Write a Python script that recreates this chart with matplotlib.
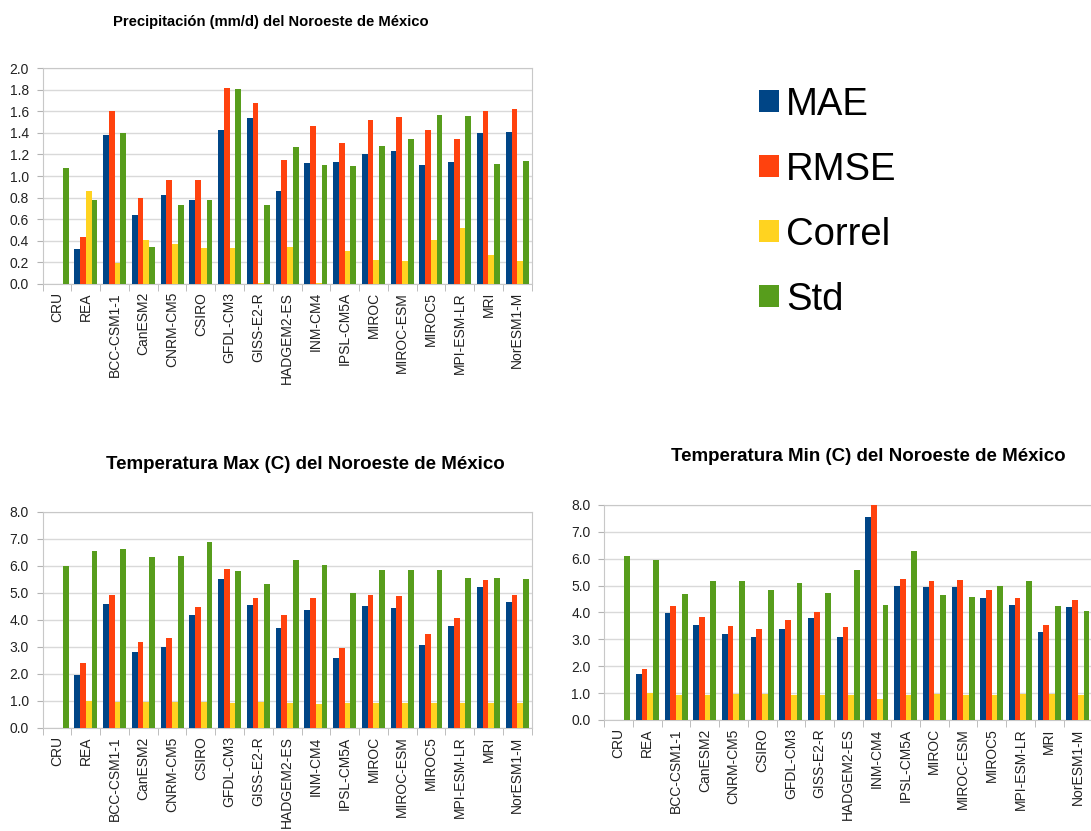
import matplotlib
matplotlib.use("Agg")
import numpy as np
import matplotlib.pyplot as plt
from matplotlib.patches import Patch

plt.rcParams['font.family'] = ['Liberation Sans', 'DejaVu Sans']

modelos = ['CRU', 'REA', 'BCC-CSM1-1', 'CanESM2', 'CNRM-CM5', 'CSIRO', 'GFDL-CM3',
           'GISS-E2-R', 'HADGEM2-ES', 'INM-CM4', 'IPSL-CM5A', 'MIROC', 'MIROC-ESM',
           'MIROC5', 'MPI-ESM-LR', 'MRI', 'NorESM1-M']
series = ['MAE', 'RMSE', 'Correl', 'Std']
colores = ['#004586', '#ff420e', '#ffd320', '#579d1c']

# precipitacion (mm/d)
pr_mae = [0, 0.32, 1.38, 0.64, 0.82, 0.78, 1.43, 1.54, 0.86, 1.12, 1.13, 1.20, 1.23, 1.10, 1.13, 1.40, 1.41]
pr_rmse = [0, 0.43, 1.60, 0.80, 0.96, 0.96, 1.82, 1.68, 1.15, 1.46, 1.31, 1.52, 1.55, 1.43, 1.34, 1.60, 1.62]
pr_correl = [0, 0.86, 0.19, 0.41, 0.37, 0.33, 0.33, 0.01, 0.34, 0.01, 0.30, 0.22, 0.21, 0.41, 0.52, 0.27, 0.21]
pr_std = [1.07, 0.78, 1.40, 0.34, 0.73, 0.78, 1.81, 0.73, 1.27, 1.10, 1.09, 1.28, 1.34, 1.57, 1.56, 1.11, 1.14]

# temperatura maxima (C)
tx_mae = [0, 1.97, 4.60, 2.83, 3.00, 4.17, 5.50, 4.55, 3.69, 4.38, 2.60, 4.50, 4.43, 3.07, 3.76, 5.22, 4.65]
tx_rmse = [0, 2.40, 4.93, 3.20, 3.32, 4.48, 5.88, 4.82, 4.17, 4.82, 2.96, 4.92, 4.87, 3.49, 4.09, 5.49, 4.94]
tx_correl = [0, 0.99, 0.97, 0.96, 0.96, 0.96, 0.92, 0.95, 0.92, 0.88, 0.93, 0.93, 0.93, 0.92, 0.93, 0.93, 0.93]
tx_std = [6.00, 6.54, 6.62, 6.33, 6.37, 6.90, 5.83, 5.34, 6.21, 6.04, 4.99, 5.85, 5.85, 5.85, 5.54, 5.55, 5.52]

# temperatura minima (C)
tn_mae = [0, 1.70, 3.97, 3.52, 3.21, 3.09, 3.40, 3.78, 3.09, 7.57, 4.98, 4.93, 4.95, 4.54, 4.28, 3.28, 4.19]
tn_rmse = [0, 1.91, 4.23, 3.82, 3.49, 3.37, 3.71, 4.00, 3.46, 8.00, 5.24, 5.19, 5.21, 4.83, 4.54, 3.55, 4.45]
tn_correl = [0, 0.99, 0.94, 0.94, 0.96, 0.96, 0.93, 0.93, 0.93, 0.78, 0.93, 0.95, 0.93, 0.93, 0.96, 0.96, 0.93]
tn_std = [6.10, 5.97, 4.69, 5.16, 5.16, 4.85, 5.11, 4.74, 5.57, 4.28, 6.27, 4.64, 4.59, 4.98, 5.19, 4.24, 4.07]


def grafica(ax, datos, titulo, ymax, paso, tx, ty, tsize):
    x = np.arange(len(modelos))
    ancho = 0.2
    for k, vals in enumerate(datos):
        ax.bar(x + (k - 1.5) * ancho, vals, ancho, color=colores[k], zorder=3)
    ax.set_xlim(-0.5, len(modelos) - 0.5)
    ax.set_ylim(0, ymax)
    ax.set_yticks(np.arange(0, ymax + paso / 2, paso))
    ax.set_yticklabels(['%.1f' % v for v in np.arange(0, ymax + paso / 2, paso)])
    ax.set_xticks(x)
    ax.set_xticklabels(modelos, rotation=90)
    ax.set_xticks(np.arange(-0.5, len(modelos)), minor=True)
    ax.tick_params(axis='x', which='major', length=0, pad=6, labelsize=10, colors='#222222')
    ax.tick_params(axis='x', which='minor', length=5, color='#b3b3b3')
    ax.tick_params(axis='y', length=4, color='#b3b3b3', pad=6, labelsize=10, labelcolor='#222222')
    ax.grid(axis='y', color='#d9d9d9', linewidth=1, zorder=0)
    for s in ax.spines.values():
        s.set_color('#c8c8c8')
    ax.figure.text(tx, ty, titulo, ha='center', va='center', fontsize=tsize, fontweight='bold')


fig = plt.figure(figsize=(10.91, 8.31), dpi=100)

ax1 = fig.add_axes([0.0391, 0.6586, 0.4482, 0.2592])
grafica(ax1, [pr_mae, pr_rmse, pr_correl, pr_std],
        'Precipitación (mm/d) del Noroeste de México', 2.0, 0.2, 0.248, 0.974, 10.6)

ax2 = fig.add_axes([0.0391, 0.1240, 0.4482, 0.2599])
grafica(ax2, [tx_mae, tx_rmse, tx_correl, tx_std],
        'Temperatura Max (C) del Noroeste de México', 8.0, 1.0, 0.28, 0.4416, 13.5)

ax3 = fig.add_axes([0.5539, 0.1336, 0.4472, 0.2587])
grafica(ax3, [tn_mae, tn_rmse, tn_correl, tn_std],
        'Temperatura Min (C) del Noroeste de México', 8.0, 1.0, 0.796, 0.451, 13.5)

handles = [Patch(facecolor=c) for c in colores]
fig.legend(handles, series, loc='upper left', bbox_to_anchor=(0.664, 0.937),
           frameon=False, fontsize=27.5, handlelength=0.52, handleheight=0.52,
           handletextpad=0.2, labelspacing=0.76)

fig.savefig('out.png', dpi=100)
